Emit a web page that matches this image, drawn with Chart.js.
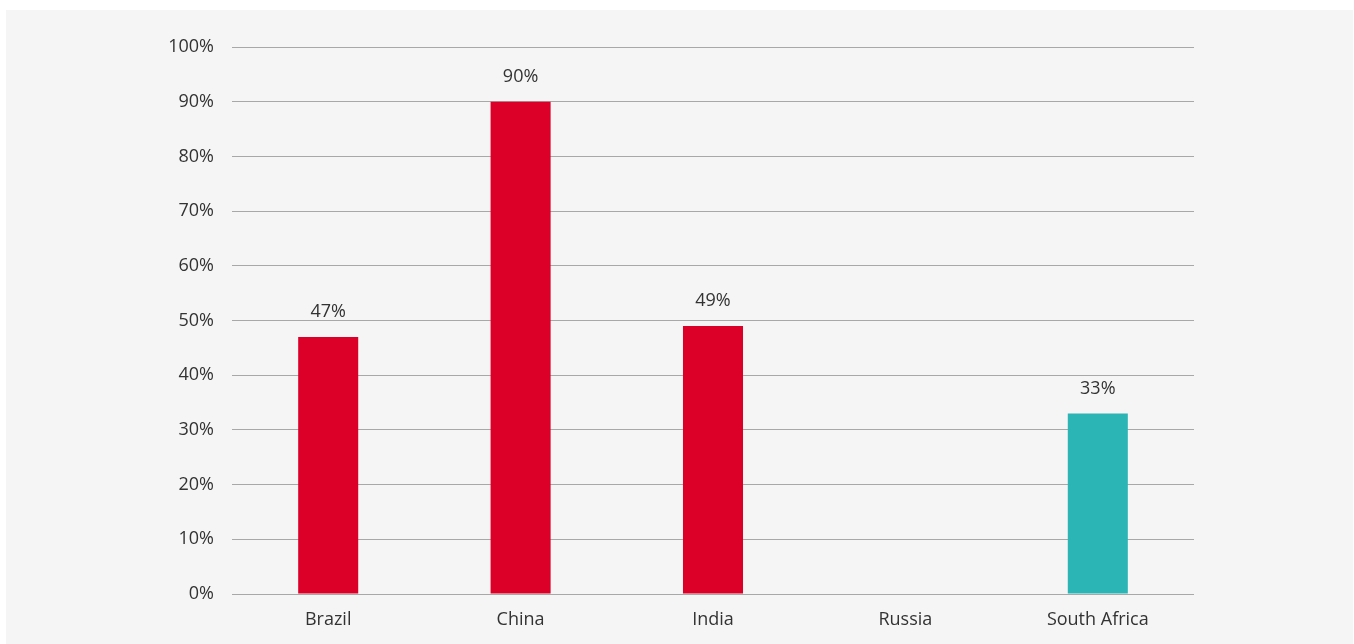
<!DOCTYPE html>
<html>
<head>
<meta charset="utf-8">
<script src="https://cdn.jsdelivr.net/npm/chart.js@4"></script>
<style>
  body { margin: 0; background: #ffffff; }
  #panel { position: absolute; left: 6px; top: 10px; width: 1347px; height: 634px; background: #f5f5f5; }
  #myChart { display: block; }
</style>
</head>
<body>
<div id="panel"><canvas id="myChart" width="1347" height="634"></canvas></div>
<script>
// Chart data
const countries = ['Brazil', 'China', 'India', 'Russia', 'South Africa'];
const shares = [47, 90, 49, null, 33];
const barColors = ['#dc0028', '#dc0028', '#dc0028', '#dc0028', '#2bb5b5'];
const yTicks = [0, 10, 20, 30, 40, 50, 60, 70, 80, 90, 100];

const fontFamily = "'Open Sans', 'Noto Sans', sans-serif";
const textColor = '#333333';

// Value labels above each bar
const valueLabels = {
    id: 'valueLabels',
    afterDatasetsDraw(chart) {
        const ctx = chart.ctx;
        const meta = chart.getDatasetMeta(0);
        ctx.save();
        ctx.font = '18px ' + fontFamily;
        ctx.fillStyle = textColor;
        ctx.textAlign = 'center';
        ctx.textBaseline = 'middle';
        meta.data.forEach((bar, i) => {
            const v = shares[i];
            if (v === null) return;
            ctx.fillText(v + '%', bar.x, bar.y - 25);
        });
        ctx.restore();
    }
};

const ctx = document.getElementById('myChart').getContext('2d');
const myChart = new Chart(ctx, {
    type: 'bar',
    data: {
        labels: countries,
        datasets: [{
            data: shares,
            backgroundColor: barColors,
            borderWidth: 0,
            barPercentage: 0.312,
            categoryPercentage: 1
        }]
    },
    options: {
        responsive: false,
        animation: false,
        layout: { padding: { left: 0, right: 159, top: 37, bottom: 0 } },
        plugins: {
            legend: { display: false },
            tooltip: { enabled: false }
        },
        scales: {
            x: {
                grid: { display: false },
                border: { display: false },
                ticks: {
                    color: textColor,
                    font: { family: fontFamily, size: 18 },
                    padding: 7
                },
                afterFit(scale) { scale.height = 50; }
            },
            y: {
                min: 0,
                max: 100,
                afterBuildTicks(scale) { scale.ticks = yTicks.map(v => ({ value: v })); },
                grid: { color: '#a8a8a8', lineWidth: 1, drawTicks: false },
                border: { display: false },
                ticks: {
                    color: textColor,
                    font: { family: fontFamily, size: 18 },
                    padding: 18,
                    callback: v => v + '%'
                },
                afterFit(scale) { scale.width = 226; }
            }
        }
    },
    plugins: [valueLabels]
});
</script>
</body>
</html>
